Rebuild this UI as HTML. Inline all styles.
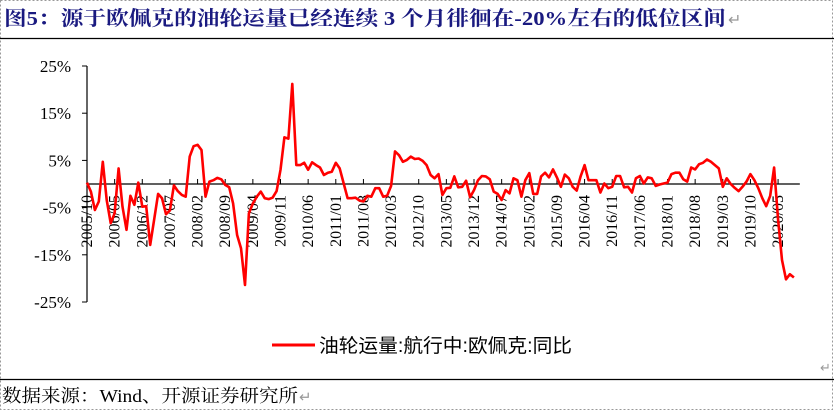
<!DOCTYPE html>
<html><head><meta charset="utf-8"><style>
body{margin:0;background:#fff}
#wrap{position:relative;width:834px;height:410px;overflow:hidden;background:#fff}
</style></head><body>
<div id="wrap">
<svg id="chart" width="834" height="410" xmlns="http://www.w3.org/2000/svg">
<rect x="0.5" y="0.5" width="832" height="409" fill="none" stroke="#999" stroke-dasharray="2,2"/>
<text x="4" y="25" font-family="Liberation Serif, Noto Serif CJK SC, serif" font-weight="bold" font-size="20" fill="#1a1a80" textLength="722" lengthAdjust="spacingAndGlyphs">图5：源于欧佩克的油轮运量已经连续 3 个月徘徊在-20%左右的低位区间</text>
<text x="728" y="25" font-family="Liberation Sans, sans-serif" font-size="16" fill="#999">↵</text>
<line x1="0" y1="38.5" x2="834" y2="38.5" stroke="#000" stroke-width="1.2"/>
<line x1="0" y1="379.5" x2="834" y2="379.5" stroke="#000" stroke-width="1.2"/>
<g id="yaxis"></g><g id="xaxis"></g><g id="series"></g>
<line x1="272" y1="345" x2="315" y2="345" stroke="#ff0000" stroke-width="3"/>
<text x="319" y="352" font-family="Liberation Sans, Noto Sans CJK SC, sans-serif" font-size="19" fill="#000" textLength="253" lengthAdjust="spacingAndGlyphs">油轮运量:航行中:欧佩克:同比</text>
<text x="820" y="372" font-family="Liberation Sans, sans-serif" font-size="13" fill="#999">↵</text>
<text x="2" y="402" font-family="Liberation Serif, Noto Serif CJK SC, serif" font-size="18" fill="#000" textLength="296" lengthAdjust="spacingAndGlyphs">数据来源：Wind、开源证券研究所</text>
<text x="299" y="402" font-family="Liberation Sans, sans-serif" font-size="15" fill="#999">↵</text>
</svg>
</div>
<script>
const yTicks=[25,15,5,-5,-15,-25];
const yTickLabels=["25%","15%","5%","-5%","-15%","-25%"];
const startYear=2005, startMonth=10, labelEvery=7;
const values=[0.3,-1.6,-5.5,-3.7,4.7,-3.4,-8.3,-6.2,3.3,-4.8,-9.7,-2.5,-4.4,0.3,-4.8,-4.7,-12.9,-7.6,-2.1,-3,-6.4,-5.6,-0.3,-1.5,-2.3,-2.7,5.8,8.0,8.3,7.2,-2.7,0.5,0.8,1.3,1.0,-0.2,-0.7,-4.1,-10.8,-13.6,-21.4,-6.2,-4.1,-2.7,-1.6,-3,-3.2,-2.9,-1.5,3,9.9,9.6,21.2,4,4,4.5,3,4.6,4,3.5,1.9,2.4,2.6,4.5,3.3,0.1,-3,-3,-2.9,-3.5,-3.7,-2.5,-2.7,-0.9,-0.9,-2.7,-2.5,-0.4,6.9,6.1,4.7,5.1,5.8,5.3,5.4,4.9,4,1.9,1.2,2.1,-2.3,-0.9,-0.8,1.6,-0.7,
-0.6,0.7,-2.8,-1.3,0.8,1.7,1.6,1.0,-1.6,-2.1,-3.4,-1.3,-2.0,1.2,0.8,-2.7,0.8,2.3,-2.1,-2.1,1.6,2.4,1.4,3.1,1.4,-0.6,2.0,1.2,-0.6,-1.4,1.6,4.0,0.8,0.8,0.8,-1.8,0.1,-0.9,-0.6,1.7,1.7,-0.7,-0.6,-1.8,1.2,1.7,0.1,1.4,1.2,-0.4,-0.1,0.1,0.3,2.1,2.4,2.4,1.0,0.5,3.5,3.1,4.2,4.5,5.2,4.7,4.0,3.3,-0.6,1.2,0,-0.8,-1.5,-0.6,0.5,2.1,0.8,-0.9,-3.0,-4.7,-2.5,3.5,-7.6,-16.1,-20.2,-19.1,-19.8];
const categories=values.map((v,i)=>{const m=startMonth-1+i;return (startYear+Math.floor(m/12))+"/"+String(m%12+1).padStart(2,"0");});
const NS="http://www.w3.org/2000/svg";
const X0=87,XSTEP=3.949,Y0=184,YPX=4.72;
function xs(i){return X0+i*XSTEP;}
function ys(v){return Y0-v*YPX;}
function mk(t,a,p){const e=document.createElementNS(NS,t);for(const k in a)e.setAttribute(k,a[k]);p.appendChild(e);return e;}
const ya=document.getElementById('yaxis');
const yl=mk('line',{x1:X0,y1:ys(25),x2:X0,y2:ys(-25),stroke:'#000','stroke-width':1.2},ya);


yTicks.forEach((t,i)=>{
 const tk=mk('line',{x1:X0-5,y1:ys(t),x2:X0,y2:ys(t),stroke:'#000','stroke-width':1},ya);
 
 
 const tx=mk('text',{x:71,y:ys(t)+6,'text-anchor':'end','font-family':'Liberation Serif, serif','font-size':17},ya);
 tx.textContent=yTickLabels[i];
 
 
});
const xa=document.getElementById('xaxis');
const xl=mk('line',{x1:X0,y1:Y0,x2:xs(values.length)+2,y2:Y0,stroke:'#000','stroke-width':1.2},xa);


for(let i=0;i<values.length;i+=labelEvery){
 const x=xs(i);
 const tk=mk('line',{x1:x,y1:Y0-5,x2:x,y2:Y0,stroke:'#000','stroke-width':1},xa);
 
 
 const tx=mk('text',{x:0,y:0,'text-anchor':'end','font-family':'Liberation Serif, serif','font-size':16,transform:`translate(${x+5},195) rotate(-90)`},xa);
 tx.textContent=categories[i];
 
 
}
const sg=document.getElementById('series');
const pl=mk('polyline',{points:values.map((v,i)=>xs(i).toFixed(1)+','+ys(v).toFixed(1)).join(' '),fill:'none',stroke:'#ff0000','stroke-width':2.6,'stroke-linejoin':'round'},sg);


</script>
</body></html>
